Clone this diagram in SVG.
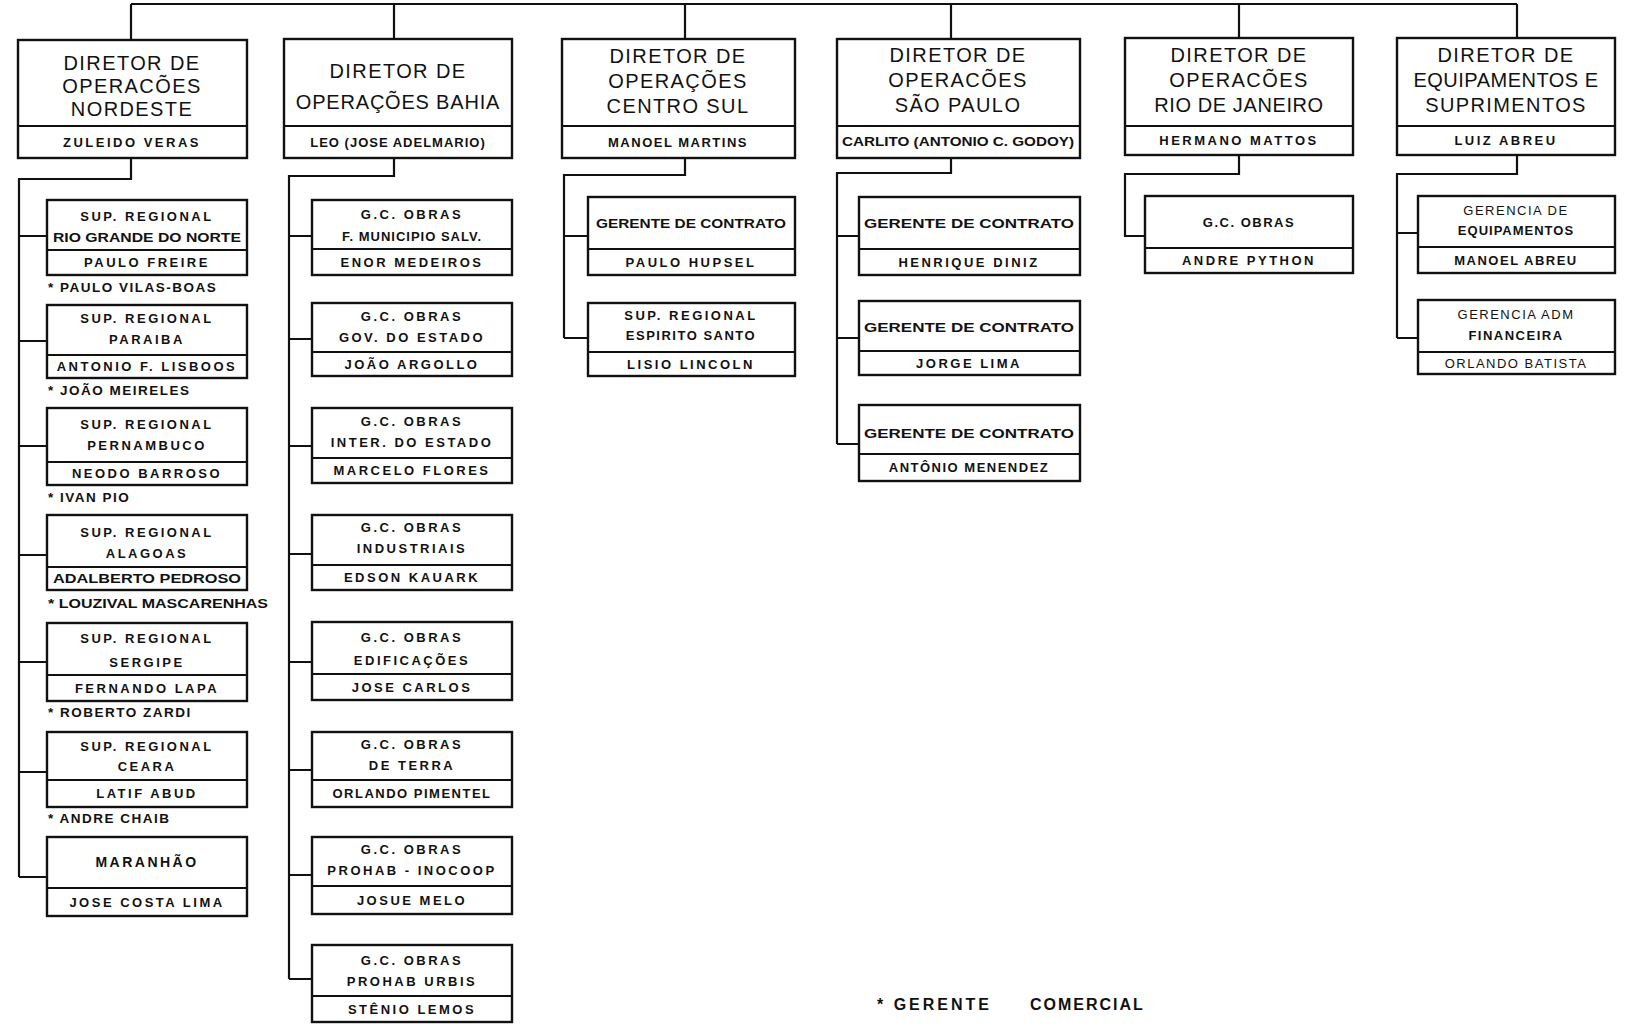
<svg xmlns="http://www.w3.org/2000/svg" width="1647" height="1030" viewBox="0 0 1647 1030">
<style>
.bg{fill:#fff}
.box{fill:#fff;stroke:#111;stroke-width:2.4}
.dv{stroke:#111;stroke-width:2.2}
.con{fill:none;stroke:#111;stroke-width:2.2}
.h{font-family:"Liberation Sans",Arial,sans-serif;font-size:20px;fill:#111;text-anchor:middle;letter-spacing:1.4px}
.c{font-family:"Liberation Sans",Arial,sans-serif;font-size:13px;font-weight:bold;fill:#111;text-anchor:middle;letter-spacing:2.5px}
.n{font-family:"Liberation Sans",Arial,sans-serif;font-size:13px;font-weight:bold;fill:#111;text-anchor:middle;letter-spacing:2.5px}
.note{font-family:"Liberation Sans",Arial,sans-serif;font-size:13.5px;font-weight:bold;fill:#111;letter-spacing:1.5px}
.ft{font-family:"Liberation Sans",Arial,sans-serif;font-size:16px;font-weight:bold;fill:#111;letter-spacing:2px}
</style>
<rect class="bg" x="0" y="0" width="1647" height="1030"/>
<g id="connectors">
<path class="con" d="M131,4 H1517 M131,4 V40 M394,4 V39 M685,4 V39 M951,4 V39 M1239,4 V38 M1517,4 V38"/>
<path class="con" d="M131,158 V179 H19 V877 M19,236 H47 M19,341 H47 M19,446 H47 M19,555 H47 M19,662 H47 M19,772 H47 M19,877 H47"/>
<path class="con" d="M394,158 V176 H289 V979 M289,236 H312 M289,339 H312 M289,446 H312 M289,554 H312 M289,662 H312 M289,770 H312 M289,875 H312 M289,979 H312"/>
<path class="con" d="M685,158 V175 H564 V338 M564,236 H588 M564,338 H588"/>
<path class="con" d="M951,158 V173 H837 V444 M837,236 H859 M837,338 H859 M837,444 H859"/>
<path class="con" d="M1239,155 V174 H1125 V236 H1145"/>
<path class="con" d="M1517,155 V174 H1397 V338 M1397,233 H1418 M1397,338 H1418"/>
</g>

<g id="dir-nordeste">
<rect class="box" x="18" y="40" width="229" height="118"/><line class="dv" x1="18" y1="126" x2="247" y2="126"/>
<text class="h" x="132" y="70">DIRETOR DE</text><text class="h" x="132" y="93">OPERACÕES</text><text class="h" x="132" y="116">NORDESTE</text>
<text class="n" x="132" y="147">ZULEIDO VERAS</text>
</g>
<g id="dir-bahia">
<rect class="box" x="284" y="39" width="228" height="119"/><line class="dv" x1="284" y1="126" x2="512" y2="126"/>
<text class="h" x="398" y="78">DIRETOR DE</text><text class="h" x="398" y="109" style="letter-spacing:0.8px">OPERAÇÕES BAHIA</text>
<text class="n" x="398" y="147" style="letter-spacing:1px">LEO (JOSE ADELMARIO)</text>
</g>
<g id="dir-centro-sul">
<rect class="box" x="562" y="39" width="233" height="119"/><line class="dv" x1="562" y1="126" x2="795" y2="126"/>
<text class="h" x="678" y="63">DIRETOR DE</text><text class="h" x="678" y="88">OPERAÇÕES</text><text class="h" x="678" y="113">CENTRO SUL</text>
<text class="n" x="678" y="147" style="letter-spacing:1.5px">MANOEL MARTINS</text>
</g>
<g id="dir-sao-paulo">
<rect class="box" x="837" y="39" width="243" height="119"/><line class="dv" x1="837" y1="126" x2="1080" y2="126"/>
<text class="h" x="958" y="62">DIRETOR DE</text><text class="h" x="958" y="87">OPERACÕES</text><text class="h" x="958" y="112">SÃO PAULO</text>
<text class="n" x="958" y="146" style="letter-spacing:0px" textLength="232" lengthAdjust="spacingAndGlyphs">CARLITO (ANTONIO C. GODOY)</text>
</g>
<g id="dir-rio">
<rect class="box" x="1125" y="38" width="228" height="117"/><line class="dv" x1="1125" y1="126" x2="1353" y2="126"/>
<text class="h" x="1239" y="62">DIRETOR DE</text><text class="h" x="1239" y="87">OPERACÕES</text><text class="h" x="1239" y="112" style="letter-spacing:0.6px">RIO DE JANEIRO</text>
<text class="n" x="1239" y="145">HERMANO MATTOS</text>
</g>
<g id="dir-equipamentos">
<rect class="box" x="1397" y="38" width="218" height="117"/><line class="dv" x1="1397" y1="126" x2="1615" y2="126"/>
<text class="h" x="1506" y="62">DIRETOR DE</text><text class="h" x="1506" y="87" style="letter-spacing:0.5px">EQUIPAMENTOS E</text><text class="h" x="1506" y="112">SUPRIMENTOS</text>
<text class="n" x="1506" y="145">LUIZ ABREU</text>
</g>

<g id="sup-rgn">
<rect class="box" x="47" y="200" width="200" height="75"/><line class="dv" x1="47" y1="250" x2="247" y2="250"/>
<text class="c" x="147" y="221">SUP. REGIONAL</text><text class="c" x="147" y="242" style="letter-spacing:0px" textLength="188" lengthAdjust="spacingAndGlyphs">RIO GRANDE DO NORTE</text>
<text class="n" x="147" y="267">PAULO FREIRE</text>
<text class="note" x="48" y="292">* PAULO VILAS-BOAS</text>
</g>
<g id="sup-paraiba">
<rect class="box" x="47" y="305" width="200" height="73"/><line class="dv" x1="47" y1="355" x2="247" y2="355"/>
<text class="c" x="147" y="323">SUP. REGIONAL</text><text class="c" x="147" y="344">PARAIBA</text>
<text class="n" x="147" y="371">ANTONIO F. LISBOOS</text>
<text class="note" x="48" y="395">* JOÃO   MEIRELES</text>
</g>
<g id="sup-pernambuco">
<rect class="box" x="47" y="408" width="200" height="77"/><line class="dv" x1="47" y1="462" x2="247" y2="462"/>
<text class="c" x="147" y="429">SUP. REGIONAL</text><text class="c" x="147" y="450">PERNAMBUCO</text>
<text class="n" x="147" y="478">NEODO BARROSO</text>
<text class="note" x="48" y="502">* IVAN PIO</text>
</g>
<g id="sup-alagoas">
<rect class="box" x="47" y="515" width="200" height="75"/><line class="dv" x1="47" y1="567" x2="247" y2="567"/>
<text class="c" x="147" y="537">SUP. REGIONAL</text><text class="c" x="147" y="558">ALAGOAS</text>
<text class="n" x="147" y="583" style="letter-spacing:0px" textLength="188" lengthAdjust="spacingAndGlyphs">ADALBERTO PEDROSO</text>
<text class="note" x="48" y="608" style="letter-spacing:0px" textLength="220" lengthAdjust="spacingAndGlyphs">* LOUZIVAL MASCARENHAS</text>
</g>
<g id="sup-sergipe">
<rect class="box" x="47" y="623" width="200" height="78"/><line class="dv" x1="47" y1="675" x2="247" y2="675"/>
<text class="c" x="147" y="643">SUP. REGIONAL</text><text class="c" x="147" y="667">SERGIPE</text>
<text class="n" x="147" y="693">FERNANDO LAPA</text>
<text class="note" x="48" y="717">* ROBERTO ZARDI</text>
</g>
<g id="sup-ceara">
<rect class="box" x="47" y="732" width="200" height="75"/><line class="dv" x1="47" y1="780" x2="247" y2="780"/>
<text class="c" x="147" y="751">SUP. REGIONAL</text><text class="c" x="147" y="771">CEARA</text>
<text class="n" x="147" y="798">LATIF ABUD</text>
<text class="note" x="48" y="823">* ANDRE CHAIB</text>
</g>
<g id="sup-maranhao">
<rect class="box" x="47" y="837" width="200" height="79"/><line class="dv" x1="47" y1="888" x2="247" y2="888"/>
<text class="c" x="147" y="867" style="font-size:14px">MARANHÃO</text>
<text class="n" x="147" y="907">JOSE COSTA LIMA</text>
</g>

<g id="gc-municipio">
<rect class="box" x="312" y="200" width="200" height="75"/><line class="dv" x1="312" y1="249" x2="512" y2="249"/>
<text class="c" x="412" y="219">G.C. OBRAS</text><text class="c" x="412" y="241" style="letter-spacing:1px">F. MUNICIPIO SALV.</text>
<text class="n" x="412" y="267">ENOR MEDEIROS</text>
</g>
<g id="gc-gov">
<rect class="box" x="312" y="303" width="200" height="73"/><line class="dv" x1="312" y1="352" x2="512" y2="352"/>
<text class="c" x="412" y="321">G.C. OBRAS</text><text class="c" x="412" y="342">GOV. DO ESTADO</text>
<text class="n" x="412" y="369">JOÃO ARGOLLO</text>
</g>
<g id="gc-inter">
<rect class="box" x="312" y="408" width="200" height="75"/><line class="dv" x1="312" y1="458" x2="512" y2="458"/>
<text class="c" x="412" y="426">G.C. OBRAS</text><text class="c" x="412" y="447">INTER. DO ESTADO</text>
<text class="n" x="412" y="475">MARCELO FLORES</text>
</g>
<g id="gc-industriais">
<rect class="box" x="312" y="515" width="200" height="75"/><line class="dv" x1="312" y1="565" x2="512" y2="565"/>
<text class="c" x="412" y="532">G.C. OBRAS</text><text class="c" x="412" y="553">INDUSTRIAIS</text>
<text class="n" x="412" y="582">EDSON KAUARK</text>
</g>
<g id="gc-edificacoes">
<rect class="box" x="312" y="622" width="200" height="78"/><line class="dv" x1="312" y1="674" x2="512" y2="674"/>
<text class="c" x="412" y="642">G.C. OBRAS</text><text class="c" x="412" y="665">EDIFICAÇÕES</text>
<text class="n" x="412" y="692">JOSE CARLOS</text>
</g>
<g id="gc-terra">
<rect class="box" x="312" y="732" width="200" height="75"/><line class="dv" x1="312" y1="780" x2="512" y2="780"/>
<text class="c" x="412" y="749">G.C. OBRAS</text><text class="c" x="412" y="770">DE TERRA</text>
<text class="n" x="412" y="798" style="letter-spacing:1.5px">ORLANDO PIMENTEL</text>
</g>
<g id="gc-inocoop">
<rect class="box" x="312" y="837" width="200" height="77"/><line class="dv" x1="312" y1="886" x2="512" y2="886"/>
<text class="c" x="412" y="854">G.C. OBRAS</text><text class="c" x="412" y="875">PROHAB - INOCOOP</text>
<text class="n" x="412" y="905">JOSUE MELO</text>
</g>
<g id="gc-urbis">
<rect class="box" x="312" y="945" width="200" height="77"/><line class="dv" x1="312" y1="996" x2="512" y2="996"/>
<text class="c" x="412" y="965">G.C. OBRAS</text><text class="c" x="412" y="986">PROHAB URBIS</text>
<text class="n" x="412" y="1014">STÊNIO LEMOS</text>
</g>

<g id="cs-contrato">
<rect class="box" x="588" y="197" width="207" height="78"/><line class="dv" x1="588" y1="249" x2="795" y2="249"/>
<text class="c" x="691" y="228" style="letter-spacing:0px" textLength="190" lengthAdjust="spacingAndGlyphs">GERENTE DE CONTRATO</text>
<text class="n" x="691" y="267">PAULO HUPSEL</text>
</g>
<g id="cs-es">
<rect class="box" x="588" y="303" width="207" height="73"/><line class="dv" x1="588" y1="352" x2="795" y2="352"/>
<text class="c" x="691" y="320">SUP. REGIONAL</text><text class="c" x="691" y="340" style="letter-spacing:1.5px">ESPIRITO SANTO</text>
<text class="n" x="691" y="369">LISIO LINCOLN</text>
</g>

<g id="sp-contrato-1">
<rect class="box" x="859" y="197" width="221" height="78"/><line class="dv" x1="859" y1="249" x2="1080" y2="249"/>
<text class="c" x="969" y="228" style="letter-spacing:0px" textLength="210" lengthAdjust="spacingAndGlyphs">GERENTE DE CONTRATO</text>
<text class="n" x="969" y="267">HENRIQUE DINIZ</text>
</g>
<g id="sp-contrato-2">
<rect class="box" x="859" y="301" width="221" height="74"/><line class="dv" x1="859" y1="351" x2="1080" y2="351"/>
<text class="c" x="969" y="332" style="letter-spacing:0px" textLength="210" lengthAdjust="spacingAndGlyphs">GERENTE DE CONTRATO</text>
<text class="n" x="969" y="368">JORGE LIMA</text>
</g>
<g id="sp-contrato-3">
<rect class="box" x="859" y="405" width="221" height="76"/><line class="dv" x1="859" y1="454" x2="1080" y2="454"/>
<text class="c" x="969" y="438" style="letter-spacing:0px" textLength="210" lengthAdjust="spacingAndGlyphs">GERENTE DE CONTRATO</text>
<text class="n" x="969" y="472" style="letter-spacing:1.5px">ANTÔNIO MENENDEZ</text>
</g>

<g id="rj-obras">
<rect class="box" x="1145" y="196" width="208" height="77"/><line class="dv" x1="1145" y1="248" x2="1353" y2="248"/>
<text class="c" x="1249" y="227" style="letter-spacing:1.5px">G.C. OBRAS</text>
<text class="n" x="1249" y="265">ANDRE PYTHON</text>
</g>

<g id="eq-equipamentos">
<rect class="box" x="1418" y="196" width="197" height="77"/><line class="dv" x1="1418" y1="247" x2="1615" y2="247"/>
<text class="c" x="1516" y="215" style="font-weight:normal;letter-spacing:1.5px">GERENCIA DE</text><text class="c" x="1516" y="235" style="letter-spacing:1px">EQUIPAMENTOS</text>
<text class="n" x="1516" y="265" style="letter-spacing:1.5px">MANOEL ABREU</text>
</g>
<g id="eq-financeira">
<rect class="box" x="1418" y="300" width="197" height="74"/><line class="dv" x1="1418" y1="352" x2="1615" y2="352"/>
<text class="c" x="1516" y="319" style="font-weight:normal;letter-spacing:1.5px">GERENCIA ADM</text><text class="c" x="1516" y="340" style="letter-spacing:1.5px">FINANCEIRA</text>
<text class="n" x="1516" y="368" style="font-weight:normal;letter-spacing:1.5px">ORLANDO BATISTA</text>
</g>

<g id="legend">
<text class="ft" x="877" y="1010" style="letter-spacing:3px">* GERENTE</text>
<text class="ft" x="1030" y="1010">COMERCIAL</text>
</g>
</svg>
